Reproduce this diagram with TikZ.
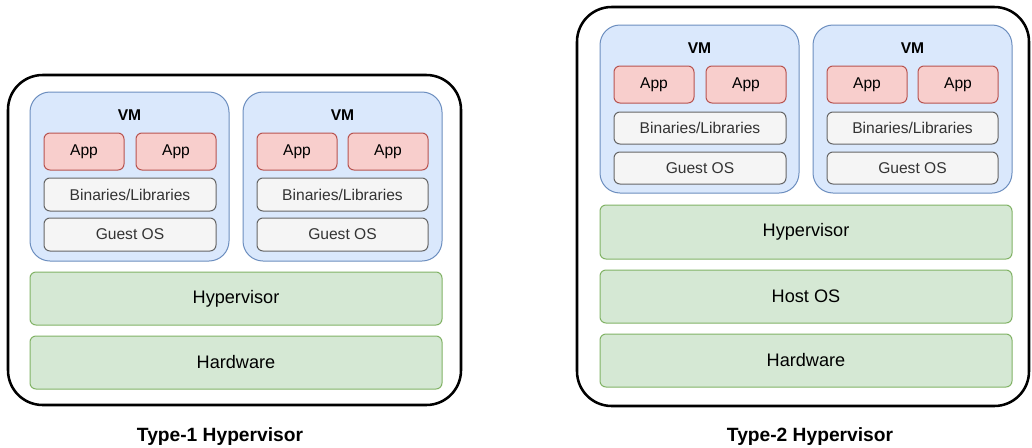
\documentclass[tikz,border=0pt]{standalone}
\usepackage{fontspec}
\setmainfont{Liberation Sans}

\definecolor{vmfill}{HTML}{DAE8FC}
\definecolor{vmline}{HTML}{6C8EBF}
\definecolor{appfill}{HTML}{F8CECC}
\definecolor{appline}{HTML}{B85450}
\definecolor{grayfill}{HTML}{F5F5F5}
\definecolor{grayline}{HTML}{666666}
\definecolor{graytext}{HTML}{333333}
\definecolor{greenfill}{HTML}{D5E8D4}
\definecolor{greenline}{HTML}{82B366}

% a box spanning two corner points (in px units), with a centred label
\newcommand\blk[7]{%
  \pgfmathsetmacro\bw{(#5-#3)*0.75}%
  \pgfmathsetmacro\bh{(#6-#4)*0.75}%
  \node[#1, minimum width=\bw pt, minimum height=\bh pt]
    (#2) at ({(#3+#5)/2},{(#4+#6)/2}) {#7};}

\tikzset{
  base/.style={inner sep=0pt, line width=0.75pt, align=center},
  outerbox/.style={base, draw=black, line width=1.9pt, rounded corners=26pt, fill=white},
  vmbox/.style={base, draw=vmline, fill=vmfill, rounded corners=15pt},
  appbox/.style={base, draw=appline, fill=appfill, rounded corners=4.5pt,
    font=\fontsize{11.7}{14}\selectfont},
  libbox/.style={base, draw=grayline, fill=grayfill, rounded corners=4.5pt,
    text=graytext, font=\fontsize{11.7}{14}\selectfont},
  layerbox/.style={base, draw=greenline, fill=greenfill, rounded corners=4.5pt,
    font=\fontsize{13.6}{16}\selectfont},
  vmlabel/.style={font=\bfseries\fontsize{11.7}{14}\selectfont},
  title/.style={font=\bfseries\fontsize{14.4}{17}\selectfont}
}

\begin{document}
\begin{tikzpicture}[x=0.75pt, y=-0.75pt]
\useasboundingbox[fill=white] (0,0) rectangle (1032,447);

% ---------- Type-1 ----------
\blk{outerbox}{t1}{8}{75}{461}{405}{}

\blk{vmbox}{t1vm1}{30}{92}{229}{261}{}
\node[vmlabel] (t1vm1l) at (129.5,115) {VM};
\blk{appbox}{t1vm1a}{44}{133}{124}{170}{App}
\blk{appbox}{t1vm1b}{136}{133}{216}{170}{App}
\blk{libbox}{t1vm1bin}{44}{178}{216}{211}{Binaries/Libraries}
\blk{libbox}{t1vm1os}{44}{218}{216}{251}{Guest OS}

\blk{vmbox}{t1vm2}{243}{92}{442}{261}{}
\node[vmlabel] (t1vm2l) at (342.5,115) {VM};
\blk{appbox}{t1vm2a}{257}{133}{337}{170}{App}
\blk{appbox}{t1vm2b}{348}{133}{428}{170}{App}
\blk{libbox}{t1vm2bin}{257}{178}{428}{211}{Binaries/Libraries}
\blk{libbox}{t1vm2os}{257}{218}{428}{251}{Guest OS}

\blk{layerbox}{t1hyp}{30}{272}{442}{325}{Hypervisor}
\blk{layerbox}{t1hw}{30}{336}{442}{389}{Hardware}

\node[title] (t1title) at (220,437) {Type-1 Hypervisor};

% ---------- Type-2 ----------
\blk{outerbox}{t2}{577}{7}{1029}{406}{}

\blk{vmbox}{t2vm1}{600}{25}{799}{193}{}
\node[vmlabel] (t2vm1l) at (699.5,48) {VM};
\blk{appbox}{t2vm1a}{614}{66}{694}{103}{App}
\blk{appbox}{t2vm1b}{706}{66}{786}{103}{App}
\blk{libbox}{t2vm1bin}{614}{112}{786}{144}{Binaries/Libraries}
\blk{libbox}{t2vm1os}{614}{152}{786}{184}{Guest OS}

\blk{vmbox}{t2vm2}{813}{25}{1012}{193}{}
\node[vmlabel] (t2vm2l) at (912.5,48) {VM};
\blk{appbox}{t2vm2a}{827}{66}{907}{103}{App}
\blk{appbox}{t2vm2b}{918}{66}{998}{103}{App}
\blk{libbox}{t2vm2bin}{827}{112}{998}{144}{Binaries/Libraries}
\blk{libbox}{t2vm2os}{827}{152}{998}{184}{Guest OS}

\blk{layerbox}{t2hyp}{600}{205}{1012}{259}{Hypervisor}
\blk{layerbox}{t2host}{600}{270}{1012}{323}{Host OS}
\blk{layerbox}{t2hw}{600}{334}{1012}{387}{Hardware}

\node[title] (t2title) at (810,437) {Type-2 Hypervisor};
\end{tikzpicture}
\end{document}
